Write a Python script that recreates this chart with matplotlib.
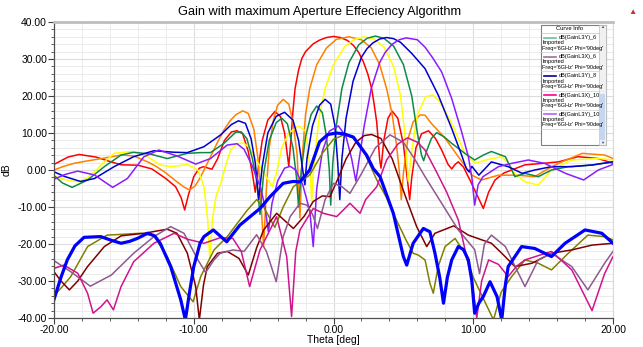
import matplotlib
matplotlib.use("Agg")
import matplotlib.pyplot as plt
from matplotlib.patches import Rectangle
from matplotlib.lines import Line2D
from matplotlib.ticker import MultipleLocator, FormatStrFormatter

plt.rcParams['font.family'] = ['Liberation Sans', 'DejaVu Sans']

TITLE = "Gain with maximum Aperture Effeciency Algorithm"
XLABEL = "Theta [deg]"
YLABEL = "dB"

# ---- co-polar traces (theta deg, gain dB) ----
RED = [(-20,1.5),(-19,3.5),(-18.2,4.2),(-17,3.5),(-16,2.3),(-15.2,1.4),(-14,1.3),(-13,0.3),(-12,-2.3),
       (-11.3,-4.5),(-10.9,-7.5),(-10.65,-10.8),(-10.4,-7),(-10.0,-1.8),(-9.6,0.5),(-9.3,0.9),(-8.7,0.2),
       (-8.3,3),(-7.8,8),(-7.3,10.3),(-6.9,10.6),(-6.5,9.8),(-6.1,5),(-5.8,-1),(-5.6,-6),(-5.4,0),(-5.1,8),
       (-4.7,13.5),(-4.2,15.8),(-3.8,14.5),(-3.5,10),(-3.3,4),(-3.2,1),(-3.05,8),(-2.9,16),(-2.75,22),
       (-2.5,27),(-2.27,30.1),(-2.0,32),(-1.45,34.1),(-1.0,35.1),(-0.5,35.8),(0,36.1),(0.5,35.8),(1.0,35),
       (1.42,33.7),(1.8,31.8),(2.14,29.2),(2.45,26),(2.73,22),(2.9,18),(3.09,13),(3.2,8),(3.3,3),(3.4,0.5),
       (3.6,8),(3.9,14),(4.2,15.9),(4.6,14),(5.0,7),(5.3,-3),(5.45,-8),(5.6,-2),(5.9,6),(6.3,9.8),(6.8,10.6),
       (7.3,8.5),(7.74,5.4),(8.2,1.5),(8.46,0.3),(8.7,1.5),(8.93,2.2),(9.3,0.8),(9.8,-3),(10.3,-7),
       (10.72,-10.4),(11.1,-6),(11.56,-2.7),(12.2,-0.8),(12.75,0),(13.7,1.4),(15,1.8),(16.1,2.2),(17.5,3.6),
       (18.95,3.1),(20,1.8)]

ORANGE = [(-20,0),(-19.3,1.0),(-18.57,1.8),(-17.7,2.4),(-16.9,2.9),(-16,3.5),(-15.2,4.05),(-14.3,3.8),
          (-13.3,2.2),(-12.7,1),(-12.1,-0.5),(-11.2,-3.2),(-10.7,-4.6),(-10.3,-5.4),(-9.9,-4.3),(-9.5,-1.8),
          (-8.8,3.6),(-8.3,7.5),(-7.84,10.8),(-7.4,13.3),(-7.0,14.9),(-6.5,16),(-6.1,15.3),(-5.7,11),(-5.4,3),
          (-5.2,-8),(-5.0,-20.7),(-4.8,-5),(-4.6,6),(-4.3,13.5),(-4.0,17.5),(-3.6,19.1),(-3.2,17.8),(-2.9,13),
          (-2.6,4),(-2.4,-13),(-2.25,3),(-2.0,15),(-1.7,22),(-1.2,28.5),(-0.5,33),(0.2,35.3),(1.1,36),
          (2.0,35.2),(2.7,33),(3.3,28.5),(3.8,22),(4.2,15),(4.5,7),(4.7,0),(4.85,-8),(5.0,-1),(5.3,8),
          (5.7,13),(6.2,14.9),(6.55,14.8),(7.0,12.6),(8.0,8.5),(8.93,3.6),(9.9,-1.4),(10.6,-2.7),(11.8,-1.4),
          (13.2,-1.4),(14.4,-1.8),(15.2,0),(16.1,1.8),(17.8,4.5),(19.4,4.05),(20,3.1)]

YELLOW = [(-20,-1.7),(-19.2,-2.6),(-18.3,-3.2),(-17.7,-2.3),(-17.1,-0.5),(-16.4,2.2),(-15.7,4.5),(-14.5,5.0),
          (-13.3,3.6),(-12.4,1.35),(-11.65,0.9),(-11,1.2),(-10.46,1.5),(-9.7,0),(-9.27,-4.5),(-9.0,-13.5),
          (-8.85,-24),(-8.67,-13.5),(-8.4,-7),(-8.07,-3.6),(-7.7,1.5),(-7.36,5.4),(-6.9,7.1),(-6.45,7.3),
          (-6.0,6),(-5.5,2.5),(-5.1,0),(-4.7,-2.5),(-4.4,-4.5),(-4.1,-1),(-3.7,6),(-3.2,10),(-2.5,11.9),
          (-2.0,10.5),(-1.8,5),(-1.65,-2),(-1.56,-8.6),(-1.45,-1),(-1.3,5),(-1.0,15),(-0.6,22),(0,28.5),
          (0.8,33.3),(1.5,35.3),(2.2,36),(2.9,35.4),(3.6,33.3),(4.3,28),(4.8,20),(5.1,10),(5.35,-3),(5.6,5),
          (6.0,15),(6.6,19.8),(7.1,20.3),(7.6,18.5),(8.34,13.5),(9.4,4.5),(10.1,1.8),(11.0,2.8),(12.0,3.6),
          (12.5,2),(12.98,-0.9),(13.7,-3.2),(14.65,-4.05),(15.6,0),(17.05,2.7),(18.95,3.1),(20,2.7)]

GREEN = [(-20,-1.5),(-19.4,-3.5),(-18.7,-4.7),(-17.6,-2.7),(-16.4,0.9),(-15.2,4.05),(-14.3,4.8),(-13.1,4.3),
         (-11.9,3.1),(-10.46,4.5),(-9.5,4.7),(-8.8,4.7),(-7.84,7.2),(-7.0,10.2),(-6.6,10.3),(-6.2,8.5),
         (-5.8,3),(-5.5,-3),(-5.26,-12),(-5.0,-1),(-4.6,8),(-4.1,12.8),(-3.7,14),(-3.3,12.5),(-2.9,6),
         (-2.65,-2),(-2.5,-10),(-2.3,0),(-2.0,9),(-1.6,15),(-1.2,17.3),(-0.8,15.5),(-0.5,9),(-0.3,0),
         (-0.2,-9.5),(-0.05,2),(0.2,12),(0.6,22),(1.1,29),(1.8,33.8),(2.4,35.6),(3.0,36.2),(3.6,35.6),
         (4.3,33.5),(5.0,28.5),(5.6,20),(6.0,10),(6.3,4),(6.45,2.5),(6.7,5.5),(7.0,8.5),(7.38,10.1),(7.9,9),
         (8.46,7.2),(9.4,4.5),(10.1,2.7),(10.7,4),(11.3,5),(12.3,3.6),(12.98,-1.8),(13.7,-0.9),(14.65,-1.8),
         (15.6,0),(16.8,0.9),(18.5,1.35),(20,2.2)]

BLUE = [(-20,-0.5),(-19.2,-1.8),(-18.1,-3.1),(-17.1,-2.3),(-15.7,0.9),(-14.3,3.6),(-12.85,5.2),(-11.4,4.8),
        (-10.46,4.7),(-9.27,6.3),(-8.07,9.5),(-7.3,12.3),(-6.8,13.3),(-6.3,12.6),(-5.9,8.5),(-5.6,2),
        (-5.35,-8),(-5.1,1),(-4.7,10),(-4.1,14.5),(-3.5,15.6),(-2.9,13.5),(-2.5,8),(-2.2,0),(-2.05,-4),
        (-1.9,3),(-1.5,12),(-1.0,17.5),(-0.6,19.1),(-0.2,17.8),(0.1,12),(0.3,2),(0.45,-8),(0.6,3),(0.9,14),
        (1.4,24),(2.0,30.5),(2.4,32.8),(2.8,34.3),(3.3,35.4),(3.8,35.8),(4.3,35.5),(4.8,34.5),(5.6,31.5),
        (6.55,27.4),(7.5,20.2),(8.46,11.2),(9.17,4),(9.5,0.4),(9.7,-0.5),(9.9,1.0),(10.4,-1.4),(11.3,2.2),
        (12.5,0.9),(13.5,-0.9),(14.4,0),(15.6,0.9),(17.05,0.9),(18.5,1.35),(20,2.2)]

PURPLE = [(-20,-2.5),(-19.2,-1.2),(-18.3,-0.3),(-17.1,-1.35),(-15.8,-4.7),(-14.75,-2.3),(-13.56,3.6),
          (-12.5,5.4),(-11.2,3.8),(-9.86,1.6),(-8.8,3.1),(-7.6,6.75),(-6.9,7.1),(-6.4,5.6),(-5.8,1),(-5.2,-5),
          (-4.9,-10),(-4.66,-16.7),(-4.4,-9),(-4.0,-3),(-3.5,0.5),(-3.1,1.0),(-2.7,0),(-2.2,-4),(-1.7,-11),
          (-1.45,-20.7),(-1.2,-5),(-0.8,5),(-0.3,10.5),(0.35,11.9),(0.9,9),(1.3,3),(1.6,-3),(1.8,2),(2.2,12),
          (2.7,22),(3.3,29),(3.7,31.8),(4.2,34),(4.7,35.2),(5.2,35.7),(6.0,35.2),(6.55,33.2),(7.1,30.3),
          (7.74,26.5),(8.46,19.3),(9.17,10.3),(9.65,3.6),(9.9,-2),(10.1,-9.5),(10.35,-4),(10.7,-1.8),
          (11.8,0.9),(12.75,1.8),(13.94,2.7),(15.1,1.8),(16.6,-0.9),(17.9,-2.7),(18.95,0),(20,1.5)]

# ---- cross-polar traces ----
BLUE_X = [(-20,-35),(-19.5,-29),(-19.05,-24.3),(-18.5,-20.5),(-17.85,-18.2),(-16.66,-18),(-15.9,-19),
          (-15.2,-19.8),(-14.6,-19.3),(-14.04,-18.5),(-13.3,-17.1),(-12.8,-17.8),(-12.4,-19.8),(-11.65,-26.1),
          (-10.93,-35.1),(-10.6,-40.5),(-10.3,-33),(-10,-26.1),(-9.55,-19.8),(-9.27,-18),(-8.6,-16.2),
          (-7.64,-19.4),(-6.7,-14.9),(-5.26,-10.4),(-4.54,-7.2),(-3.6,-3.6),(-2.9,-3.1),(-2.4,-3.2),(-1.7,0),
          (-1.0,7.6),(-0.4,9.6),(0.23,10),(0.8,9.7),(1.42,8.9),(2.37,4),(2.85,0.35),(3.33,-1.8),(4.28,-11.7),
          (5.0,-23.4),(5.24,-25.7),(5.7,-19.8),(6.43,-15.8),(6.9,-16.7),(7.26,-22.5),(7.6,-29),(7.87,-36),
          (8.15,-29),(8.46,-24.3),(8.93,-20.7),(9.3,-21.5),(9.65,-24.3),(9.9,-30),(10.1,-38.7),(10.4,-36),
          (10.72,-34.2),(11.2,-30.2),(11.7,-34.2),(12.04,-40.5),(12.3,-31),(12.5,-26.1),(13.46,-20.7),
          (14.4,-21.2),(15.6,-23.4),(16.57,-19.8),(18.0,-16.2),(19.2,-17.1),(20,-19.8)]

OLIVE_X = [(-20,-34),(-19.4,-31.5),(-18.8,-28.8),(-17.6,-20.7),(-16.2,-17.6),(-15.2,-17.4),(-13.8,-17.1),
           (-12.85,-17.8),(-11.9,-23.4),(-10.93,-31.5),(-10.05,-35.6),(-9.5,-28.8),(-8.55,-21.6),(-7.6,-18),
           (-6.9,-14.5),(-6.2,-11),(-5.5,-8),(-5.0,-10),(-4.2,-15.5),(-3.6,-10),(-2.87,-4.5),(-1.7,-1.35),
           (-0.8,4.5),(0,8.3),(0.8,9.6),(1.5,8.5),(2.3,4),(3.1,-2.7),(3.8,-7.5),(4.5,-13.5),(5.2,-19),
           (5.7,-22.5),(6.07,-23),(6.55,-24.3),(6.9,-30.6),(7.14,-33.3),(7.5,-26),(7.98,-20.7),(8.7,-18.5),
           (9.4,-22.5),(10.0,-29),(10.5,-33),(11.45,-40.5),(12.0,-33),(12.75,-28.8),(13.7,-24.3),
           (14.65,-25.2),(15.6,-27),(16.8,-22.5),(18.2,-17.6),(19.4,-18),(20,-18.9)]

MAROON_X = [(-20,-27.5),(-19.5,-30),(-18.9,-32.4),(-18.3,-30),(-17.6,-26.1),(-16.4,-20.7),(-15.2,-17.8),
            (-13.56,-17.1),(-11.9,-16),(-11.2,-17.1),(-10.46,-22.5),(-9.86,-31.5),(-9.6,-40.5),(-9.3,-31),
            (-9.03,-26.1),(-8.3,-22.5),(-7.6,-22),(-6.76,-23.9),(-6.1,-28.4),(-5.5,-21),(-5.0,-16.2),
            (-4.07,-11.7),(-2.87,-15.8),(-2.1,-12.5),(-1.45,-8.5),(-0.8,-7),(-0.25,-7.2),(0.3,-2.5),(0.9,3),
            (1.6,7.5),(2.2,9.3),(2.73,9.6),(3.4,8.5),(4.2,3),(5.24,-8.1),(5.95,-15.3),(6.67,-20.7),
            (7.26,-17.1),(8.6,-15.1),(9.65,-17.6),(11.3,-19.8),(12.04,-22.5),(12.98,-26.1),(14.2,-25.2),
            (15.6,-22.5),(17.05,-21.6),(18.5,-20.3),(20,-19.8)]

MAUVE_X = [(-20,-24.5),(-18.8,-27.5),(-17.4,-31.4),(-15.9,-28.4),(-14.3,-22.5),(-12.85,-18),(-11.65,-15.3),
           (-10.7,-17.1),(-9.7,-24.3),(-9.15,-27.7),(-8.55,-24.3),(-8.1,-22.5),(-7.2,-21.6),(-6.4,-22),
           (-5.5,-17.5),(-4.8,-22),(-4.1,-30.2),(-3.6,-18),(-3.1,-12.6),(-2.4,-9),(-1.9,-9.5),(-1.5,-12),
           (-1.15,-15.8),(-0.6,-8),(0.0,-3.6),(0.6,-4.5),(1.18,-6.3),(2.0,-1),(3.0,6),(4.04,9.5),(5.0,7.5),
           (5.8,3),(6.55,-1.8),(7.74,-9),(8.93,-16.2),(10.1,-21.5),(10.45,-28),(10.8,-20),(11.3,-17.6),
           (12.3,-20.7),(13.7,-31.5),(14.65,-24.3),(15.6,-22.5),(17.05,-26.1),(18.2,-32.4),(19.4,-25.2),
           (20,-22)]

MAGENTA_X = [(-20,-26.6),(-19.3,-25.7),(-18.3,-27.9),(-17.6,-33.3),(-17.2,-38.7),(-16.66,-37),(-16.2,-35.1),
             (-15.75,-37.8),(-15.2,-31.5),(-14.3,-24.8),(-12.85,-19.8),(-11.4,-17.1),(-10.46,-18.7),
             (-9.27,-19.8),(-8.1,-18.3),(-7.2,-18.5),(-6.6,-22),(-6.0,-31.5),(-5.26,-21.6),(-4.07,-12.6),
             (-3.35,-23.4),(-3.0,-39.6),(-2.7,-22),(-2.4,-16.2),(-1.45,-10.4),(-0.73,-11.7),(0.23,-12.6),
             (1.18,-9),(1.9,-11.7),(2.3,-8),(3.1,-4.5),(3.8,2.7),(4.6,7),(5.3,8.7),(6.0,7.5),(6.55,5.4),
             (7.3,0),(8.1,-6),(8.93,-13.5),(9.9,-29.7),(10.25,-40),(10.6,-30),(11.1,-24.3),(11.8,-25.5),
             (12.5,-28.8),(13.1,-26),(13.7,-24.3),(15.6,-22),(17.05,-27),(18.5,-38),(19.4,-28),(20,-23.4)]

SERIES = [
    (RED, '#FF0000', 1.1),
    (ORANGE, '#FF8000', 1.1),
    (YELLOW, '#FFFF00', 1.1),
    (GREEN, '#0E8A48', 1.1),
    (BLUE, '#0000D0', 1.1),
    (PURPLE, '#8C1CFF', 1.1),
    (OLIVE_X, '#808000', 1.1),
    (MAROON_X, '#800000', 1.1),
    (MAUVE_X, '#8E5A8E', 1.1),
    (MAGENTA_X, '#D0148C', 1.1),
    (BLUE_X, '#0000FF', 2.3),
]

LEGEND_ITEMS = [("dB(GainL3Y)_6", '#66C299'), ("dB(GainL3X)_6", '#A0709A'),
                ("dB(GainL3Y)_8", '#0000A0'), ("dB(GainL3X)_10", '#FF0090'),
                ("dB(GainL3Y)_10", '#B060FF')]
LEGEND_SUB1 = "Imported"
LEGEND_SUB2 = "Freq='6GHz' Phi='90deg'"

W, H = 643, 347
fig = plt.figure(figsize=(W/100, H/100), dpi=100)
L, R, T, B = 54, 613, 22, 318
ax = fig.add_axes([L/W, 1-B/H, (R-L)/W, (B-T)/H])

for data, col, lw in SERIES:
    th = [p[0] for p in data]
    g = [p[1] for p in data]
    ax.plot(th, g, color=col, lw=lw, solid_joinstyle='round', clip_on=True)

ax.set_xlim(-20, 20)
ax.set_ylim(-40, 40)
ax.xaxis.set_major_locator(MultipleLocator(10))
ax.xaxis.set_minor_locator(MultipleLocator(2))
ax.yaxis.set_major_locator(MultipleLocator(10))
ax.yaxis.set_minor_locator(MultipleLocator(2))
ax.xaxis.set_major_formatter(FormatStrFormatter('%.2f'))
ax.yaxis.set_major_formatter(FormatStrFormatter('%.2f'))
ax.grid(which='major', color='#DCDCDC', lw=0.8)
ax.grid(which='minor', color='#EBEBEB', lw=0.7)
ax.set_axisbelow(True)
ax.tick_params(which='major', direction='out', length=4, width=0.8, color='#404040',
               labelsize=7.5, pad=1, labelcolor='#000000')
ax.tick_params(which='minor', direction='out', length=2, width=0.6, color='#404040')
for s in ['left', 'bottom']:
    ax.spines[s].set_color('#505050')
    ax.spines[s].set_linewidth(0.9)
ax.spines['top'].set_color('#BEBEBE')
ax.spines['top'].set_linewidth(2.0)
ax.spines['right'].set_color('#D8D8D8')
ax.spines['right'].set_linewidth(0.8)
ax.set_xlabel(XLABEL, fontsize=7.5, labelpad=0)
ax.set_ylabel(YLABEL, fontsize=7.5, labelpad=4)

fig.text(0.497, 1-12/H, TITLE, ha='center', va='center', fontsize=9.2)
fig.text(632/W, 1-12/H, "\u25B2", ha='center', va='center', fontsize=6, color='#C83030')

# ---- legend box ("Curve Info") ----
def fx(px):
    return px / W
def fy(py):
    return 1 - py / H

bx0, bx1, by0, by1 = 541, 606, 25, 145
fig.patches.append(Rectangle((fx(bx0), fy(by1)), fx(bx1)-fx(bx0), fy(by0)-fy(by1),
                             transform=fig.transFigure, facecolor='white', edgecolor='#808080',
                             lw=0.8, zorder=10))
fig.patches.append(Rectangle((fx(599), fy(by1)), fx(bx1)-fx(599), fy(by0)-fy(by1),
                             transform=fig.transFigure, facecolor='#F0F0F0', edgecolor='#C0C0C0',
                             lw=0.5, zorder=11))
fig.patches.append(Rectangle((fx(599.5), fy(140)), fx(605.5)-fx(599.5), fy(93.5)-fy(140),
                             transform=fig.transFigure, facecolor='#C4D6F0', edgecolor='none', zorder=12))
fig.text(fx(602.5), fy(27), "\u25B2", ha='center', va='center', fontsize=3, color='#3050C0', zorder=13)
fig.text(fx(602.5), fy(142.5), "\u25BC", ha='center', va='center', fontsize=3, color='#3050C0', zorder=13)
fig.text(fx(570), fy(29), "Curve Info", ha='center', va='center', fontsize=4.2, zorder=13)
fig.lines.append(Line2D([fx(bx0), fx(599)], [fy(33), fy(33)], transform=fig.transFigure,
                        color='#C0C0C0', lw=0.5, zorder=13))
y0 = 37.5
for name, col in LEGEND_ITEMS:
    fig.lines.append(Line2D([fx(544), fx(556)], [fy(y0), fy(y0)], transform=fig.transFigure,
                            color=col, lw=1.2, zorder=13))
    fig.text(fx(559), fy(y0), name, ha='left', va='center', fontsize=4.0, zorder=13)
    fig.text(fx(542.5), fy(y0+5.3), LEGEND_SUB1, ha='left', va='center', fontsize=4.0, zorder=13)
    fig.text(fx(542.5), fy(y0+10.6), LEGEND_SUB2, ha='left', va='center', fontsize=4.0, zorder=13)
    fig.lines.append(Line2D([fx(bx0), fx(599)], [fy(y0+14.6), fy(y0+14.6)], transform=fig.transFigure,
                            color='#D0D0D0', lw=0.5, zorder=13))
    y0 += 19.2

fig.savefig("out.png", dpi=100)
